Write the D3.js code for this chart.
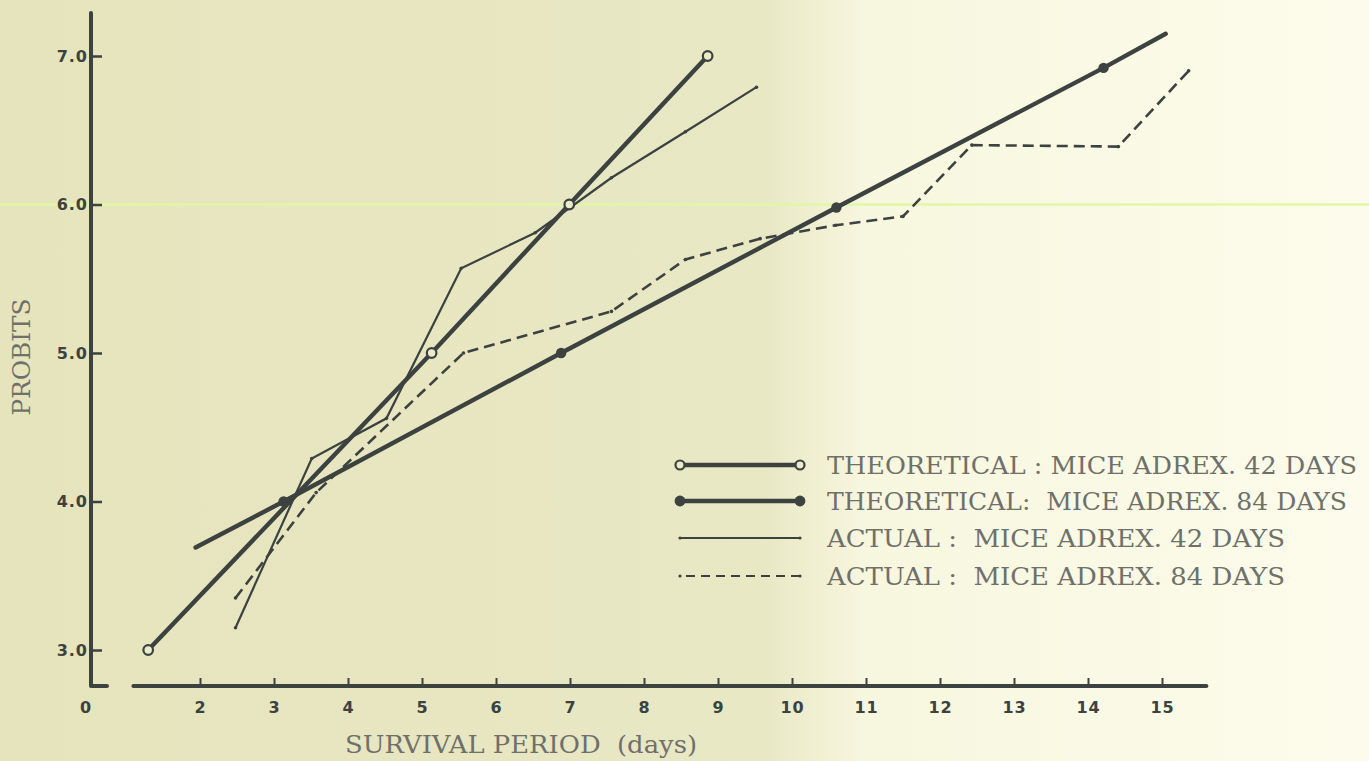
<!DOCTYPE html>
<html>
<head>
<meta charset="utf-8">
<script src="https://cdn.jsdelivr.net/npm/d3@7"></script>
<style>
  html, body { margin: 0; padding: 0; overflow: hidden; background: #f3f2d8; }
  svg { display: block; }
  .type { font-family: "DejaVu Serif", "Liberation Serif", serif; fill: #6f706a; font-size: 24px; white-space: pre; }
</style>
</head>
<body>
<script>
// x axis ticks (days) and y axis ticks (probits)
const dayTicks = [2, 3, 4, 5, 6, 7, 8, 9, 10, 11, 12, 13, 14, 15];
const probitTicks = [3, 4, 5, 6, 7];

// theoretical : mice adrex. 42 days (open circles)
const theo42Days    = [1.30, 5.13, 6.99, 8.86];
const theo42Probits = [3.00, 5.00, 6.00, 7.00];

// theoretical : mice adrex. 84 days (filled dots)
const theo84Days    = [1.94, 3.13, 6.88, 10.60, 14.21, 15.05];
const theo84Probits = [3.69, 4.00, 5.00, 5.98, 6.92, 7.15];
const theo84Dots    = [false, true, true, true, true, false];

// actual : mice adrex. 42 days (thin line)
const act42Days    = [2.48, 3.51, 4.52, 5.53, 6.53, 7.56, 8.56, 9.52];
const act42Probits = [3.15, 4.29, 4.56, 5.57, 5.81, 6.18, 6.49, 6.79];

// actual : mice adrex. 84 days (dashed line)
const act84Days    = [2.48, 3.57, 5.56, 7.56, 8.56, 9.57, 10.59, 11.50, 12.43, 14.41, 15.36];
const act84Probits = [3.35, 4.06, 5.00, 5.28, 5.63, 5.77, 5.86, 5.92, 6.40, 6.39, 6.90];

const legendLabels = [
  "THEORETICAL : MICE ADREX. 42 DAYS",
  "THEORETICAL:  MICE ADREX. 84 DAYS",
  "ACTUAL :  MICE ADREX. 42 DAYS",
  "ACTUAL :  MICE ADREX. 84 DAYS"
];

const W = 1369, H = 761;
const ink = "#3b423f";
const paper = "#ecebca";

const svg = d3.select("body")
  .append("svg")
  .attr("width", W)
  .attr("height", H);

// paper background, darker on the left, lighter on the right
const grad = svg.append("defs").append("linearGradient")
  .attr("id", "paper")
  .attr("x1", 0).attr("x2", 1).attr("y1", 0).attr("y2", 0);
grad.append("stop").attr("offset", "0%").attr("stop-color", "#e5e4bc");
grad.append("stop").attr("offset", "56%").attr("stop-color", "#e9e8c5");
grad.append("stop").attr("offset", "63%").attr("stop-color", "#f7f6de");
grad.append("stop").attr("offset", "100%").attr("stop-color", "#fdfcec");
svg.append("rect").attr("width", W).attr("height", H).attr("fill", "url(#paper)");

const x = d3.scaleLinear().domain([2, 15]).range([200, 1162]);
const y = d3.scaleLinear().domain([3, 7]).range([650, 56]);
const axisY = 686;
const axisX = 91;

const tickFont = s => s
  .style("font-family", "'DejaVu Sans', sans-serif")
  .style("font-weight", "bold")
  .style("font-size", "16px")
  .style("letter-spacing", "1px")
  .style("fill", ink);

// faint green line across at 6.0
svg.append("line")
  .attr("x1", 0).attr("x2", W)
  .attr("y1", y(6)).attr("y2", y(6))
  .attr("stroke", "#e2f7a6")
  .attr("stroke-width", 2.5);

// x axis
svg.append("g")
  .attr("transform", `translate(0,${axisY})`)
  .call(d3.axisBottom(x).tickValues(dayTicks).tickFormat(d3.format("d"))
    .tickSizeInner(-8).tickSizeOuter(0).tickPadding(16))
  .call(g => g.select(".domain").remove())
  .call(g => g.selectAll(".tick line").attr("stroke", ink).attr("stroke-width", 2))
  .call(g => tickFont(g.selectAll(".tick text")));

svg.append("line")
  .attr("x1", x(1.1)).attr("x2", x(15.6))
  .attr("y1", axisY).attr("y2", axisY)
  .attr("stroke", ink).attr("stroke-width", 4).attr("stroke-linecap", "round");

// origin label
tickFont(svg.append("text")
  .attr("x", axisX - 5).attr("y", axisY + 27)
  .attr("text-anchor", "middle")
  .text("0"));

// y axis
svg.append("g")
  .attr("transform", `translate(${axisX},0)`)
  .call(d3.axisLeft(y).tickValues(probitTicks).tickFormat(d3.format(".1f"))
    .tickSizeInner(-11).tickSizeOuter(0).tickPadding(3))
  .call(g => g.select(".domain").remove())
  .call(g => g.selectAll(".tick line").attr("stroke", ink).attr("stroke-width", 2.5))
  .call(g => tickFont(g.selectAll(".tick text")));

svg.append("path")
  .attr("d", `M${axisX},${y(7.29)} L${axisX},${axisY} L${axisX + 16},${axisY}`)
  .attr("fill", "none")
  .attr("stroke", ink).attr("stroke-width", 4)
  .attr("stroke-linecap", "round").attr("stroke-linejoin", "round");

// axis titles
svg.append("text")
  .attr("class", "type")
  .attr("x", 345).attr("y", 753)
  .attr("textLength", 352).attr("lengthAdjust", "spacingAndGlyphs")
  .text("SURVIVAL PERIOD  (days)");

svg.append("text")
  .attr("class", "type")
  .attr("transform", "translate(30,357) rotate(-90)")
  .attr("text-anchor", "middle")
  .attr("textLength", 117).attr("lengthAdjust", "spacingAndGlyphs")
  .text("PROBITS");

// lines
const line = d3.line().x(d => x(d[0])).y(d => y(d[1]));
const pts = (ds, ps) => ds.map((d, i) => [d, ps[i]]);

const theo42 = pts(theo42Days, theo42Probits);
const theo84 = pts(theo84Days, theo84Probits);
const act42 = pts(act42Days, act42Probits);
const act84 = pts(act84Days, act84Probits);

svg.append("path").datum(act84).attr("d", line)
  .attr("fill", "none").attr("stroke", ink).attr("stroke-width", 2.6)
  .attr("stroke-dasharray", "11,6");
svg.append("path").datum(act42).attr("d", line)
  .attr("fill", "none").attr("stroke", ink).attr("stroke-width", 2.2);
svg.append("path").datum(theo84).attr("d", line)
  .attr("fill", "none").attr("stroke", ink).attr("stroke-width", 4.4)
  .attr("stroke-linecap", "round");
svg.append("path").datum(theo42).attr("d", line)
  .attr("fill", "none").attr("stroke", ink).attr("stroke-width", 4.4)
  .attr("stroke-linecap", "round");

// vertex dots on actual lines
svg.selectAll(".vdot")
  .data(act42.concat(act84))
  .enter()
  .append("circle")
  .attr("cx", d => x(d[0]))
  .attr("cy", d => y(d[1]))
  .attr("r", 1.8)
  .attr("fill", ink);

// filled markers
svg.selectAll(".fdot")
  .data(theo84.filter((d, i) => theo84Dots[i]))
  .enter()
  .append("circle")
  .attr("cx", d => x(d[0]))
  .attr("cy", d => y(d[1]))
  .attr("r", 5.2)
  .attr("fill", ink);

// open markers
svg.selectAll(".odot")
  .data(theo42)
  .enter()
  .append("circle")
  .attr("cx", d => x(d[0]))
  .attr("cy", d => y(d[1]))
  .attr("r", 4.8)
  .attr("fill", paper)
  .attr("stroke", ink)
  .attr("stroke-width", 2.2);

// legend
const legendRows = [465, 501, 538, 576];
const legendTextLen = [530, 520, 458, 458];
const lg = svg.append("g");

legendRows.forEach((ry, i) => {
  const seg = lg.append("line")
    .attr("x1", 680).attr("x2", 800)
    .attr("y1", ry).attr("y2", ry)
    .attr("stroke", ink);
  if (i < 2) {
    seg.attr("stroke-width", 4.4);
    [680, 800].forEach(cx => {
      lg.append("circle")
        .attr("cx", cx).attr("cy", ry)
        .attr("r", i === 0 ? 4.5 : 5.4)
        .attr("fill", i === 0 ? paper : ink)
        .attr("stroke", ink)
        .attr("stroke-width", i === 0 ? 2.2 : 0);
    });
  } else {
    seg.attr("stroke-width", 2.2);
    if (i === 3) seg.attr("stroke-dasharray", "9,6").attr("x1", 686);
    [680, 800].forEach(cx => {
      lg.append("circle").attr("cx", cx).attr("cy", ry).attr("r", 1.6).attr("fill", ink);
    });
  }
  lg.append("text")
    .attr("class", "type")
    .attr("x", 827).attr("y", ry + 9)
    .attr("textLength", legendTextLen[i]).attr("lengthAdjust", "spacingAndGlyphs")
    .text(legendLabels[i]);
});
</script>
</body>
</html>
